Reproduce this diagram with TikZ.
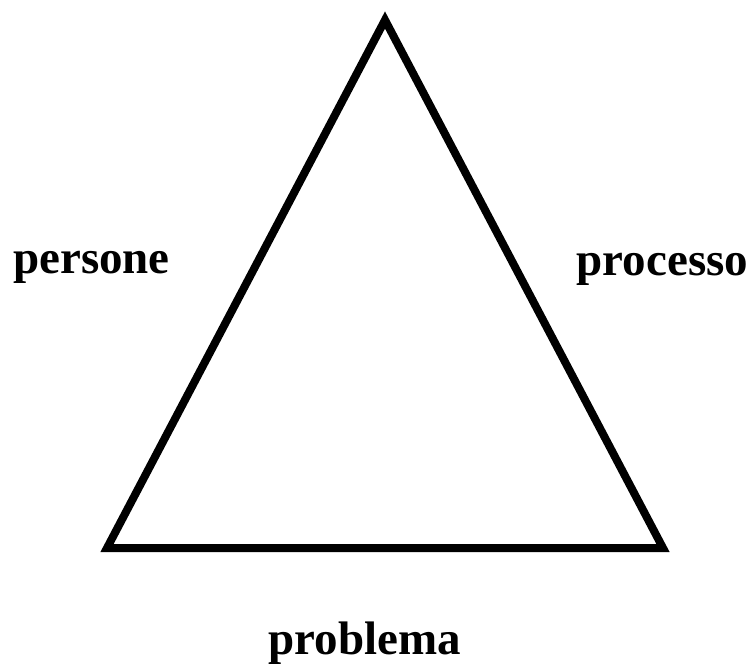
\documentclass[tikz,border=0pt]{standalone}
\usepackage{fontspec}
\setmainfont{Liberation Serif}
\begin{document}
\begin{tikzpicture}[x=1pt,y=-1pt,
  label text/.style={font=\fontsize{47}{50}\selectfont\bfseries,inner sep=0pt,anchor=base}]

  % page frame
  \useasboundingbox (0,0) rectangle (751,667);

  % triangle corners
  \coordinate (top)   at (385,20);
  \coordinate (left)  at (107,548);
  \coordinate (right) at (663,548);
  \draw[line width=8pt,miter limit=10] (top) -- (left) -- (right) -- cycle;

  % labels
  \node[label text] (persone)  at (91.5,273) {persone};
  \node[label text] (processo) at (662.5,275) {processo};
  \node[label text] (problema) at (365,654) {problema};
\end{tikzpicture}
\end{document}
